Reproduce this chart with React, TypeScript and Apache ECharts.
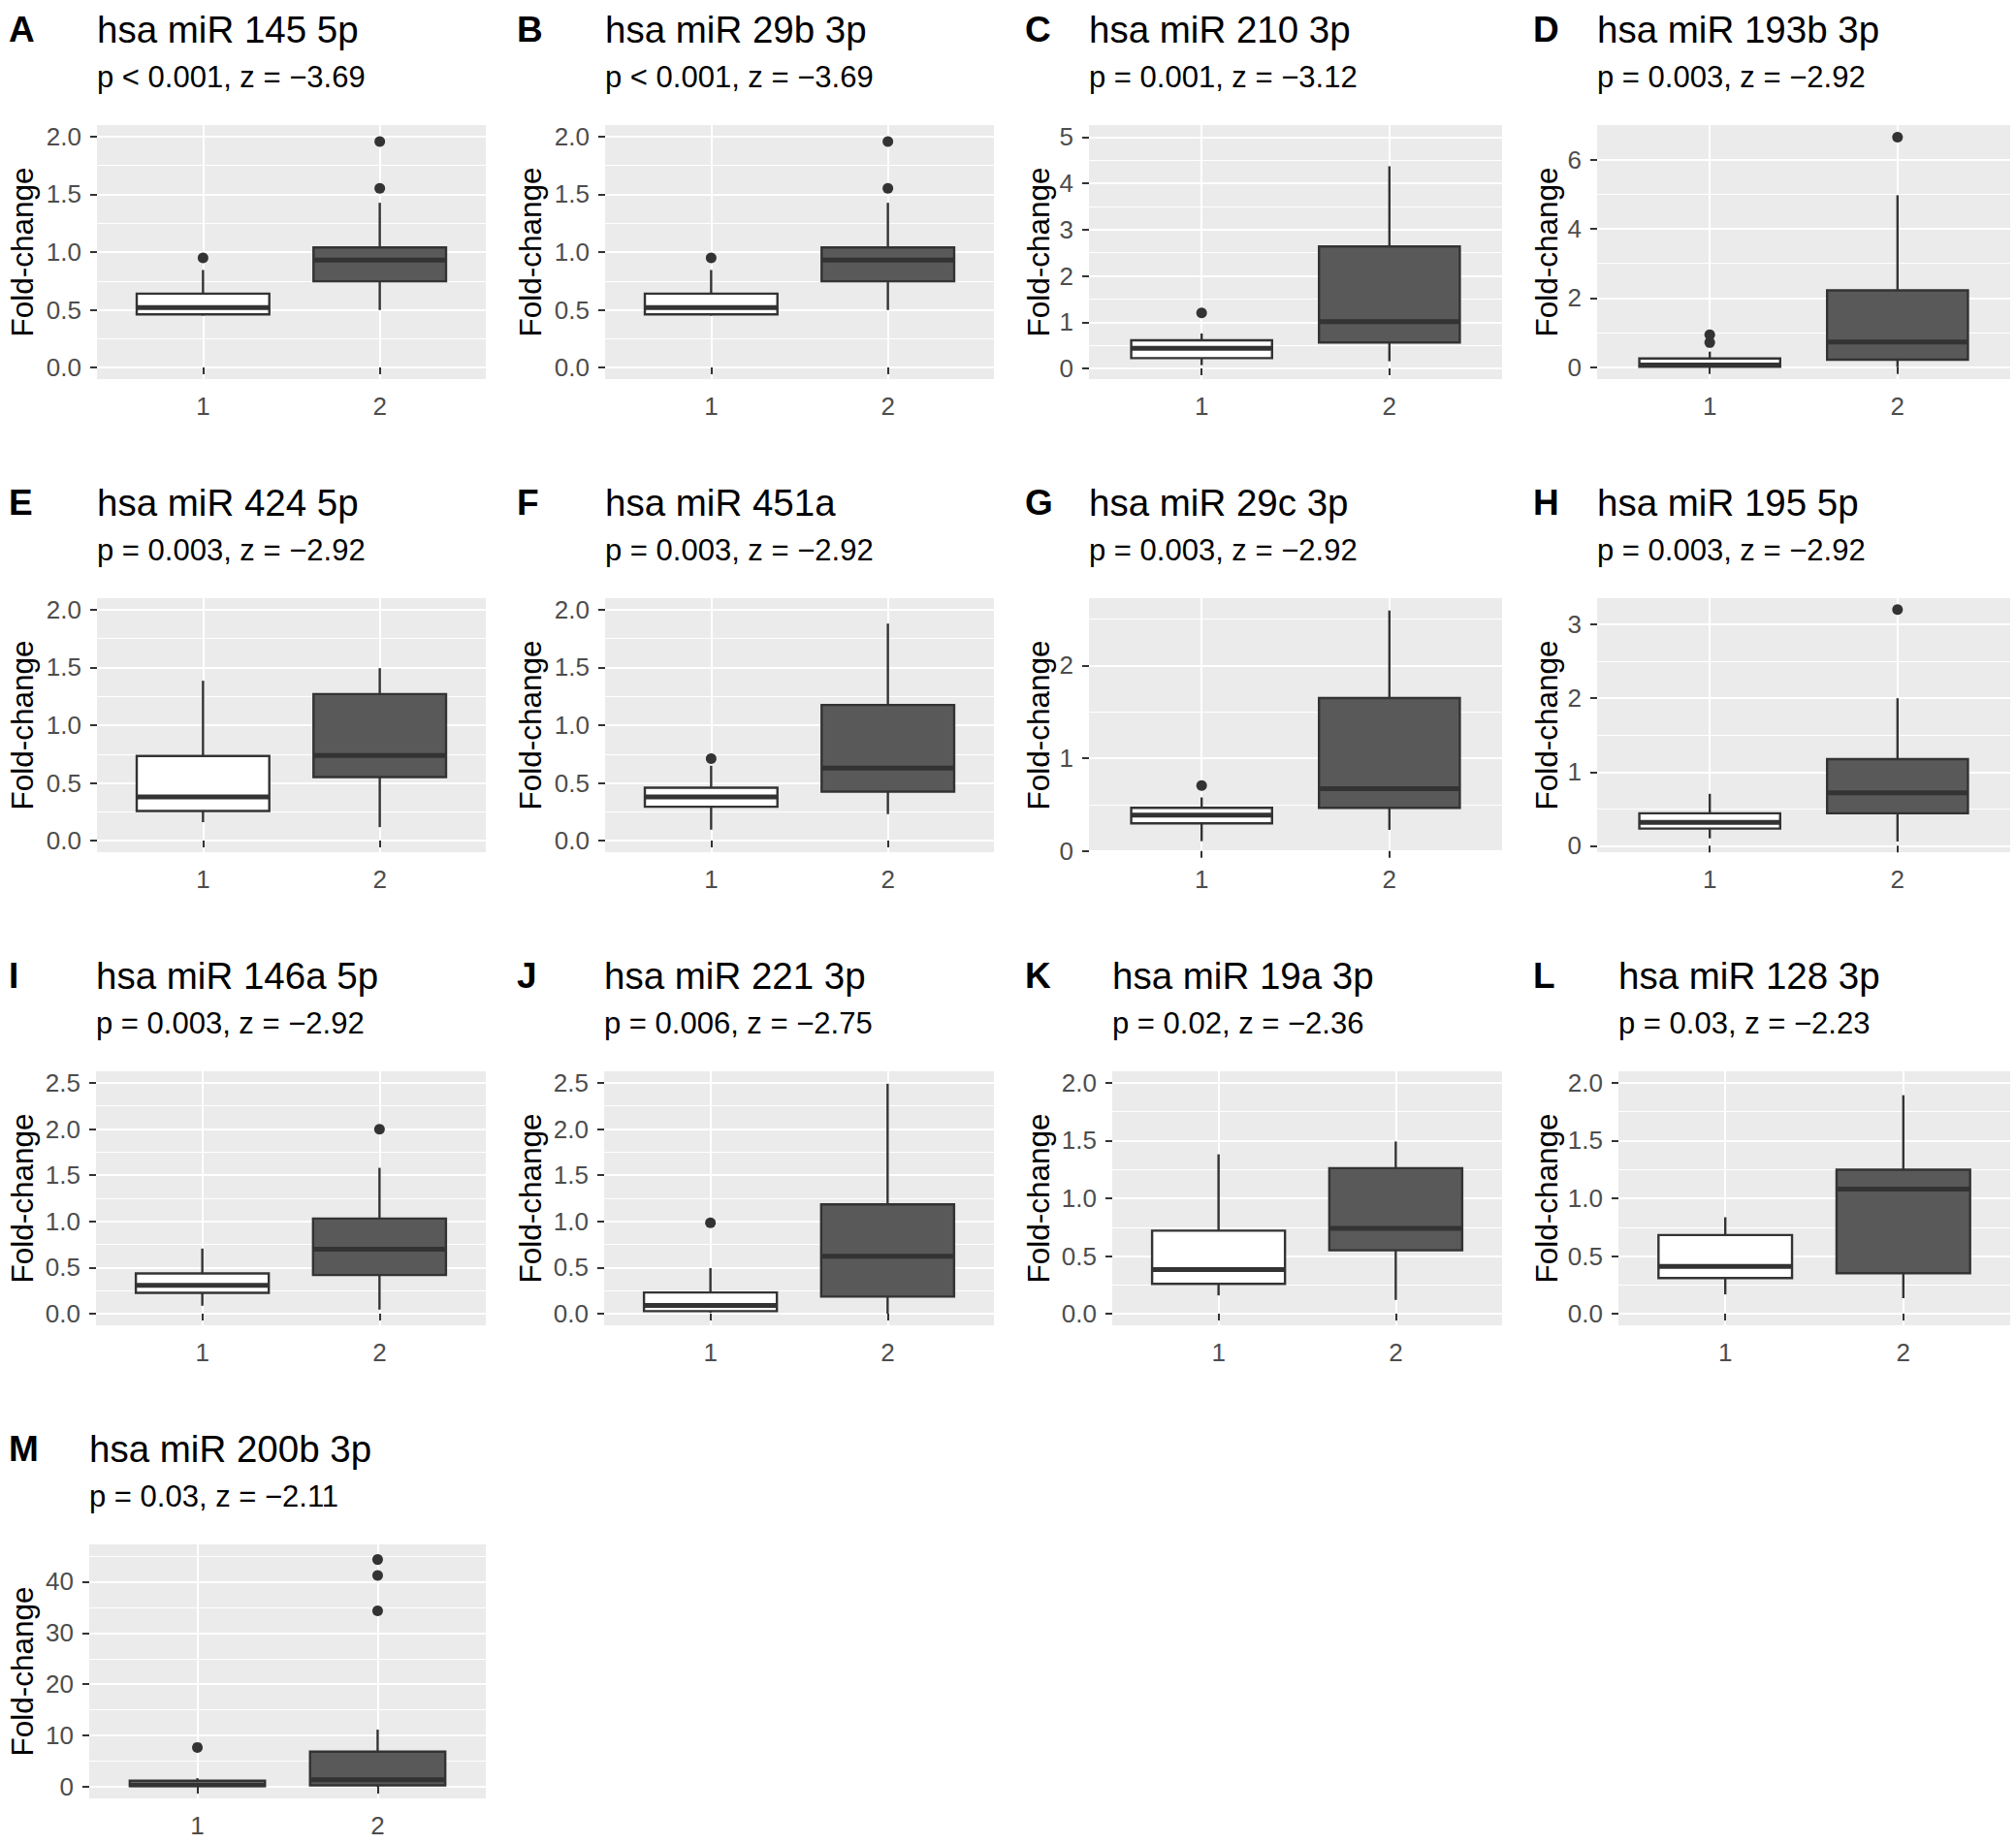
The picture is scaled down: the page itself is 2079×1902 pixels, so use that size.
import React, { useEffect, useRef } from 'react';
import * as echarts from 'echarts';

// ---------- data ----------
const LETTERS = ['A', 'B', 'C', 'D', 'E', 'F', 'G', 'H', 'I', 'J', 'K', 'L', 'M'];
const TITLES = [
  'hsa miR 145 5p', 'hsa miR 29b 3p', 'hsa miR 210 3p', 'hsa miR 193b 3p',
  'hsa miR 424 5p', 'hsa miR 451a', 'hsa miR 29c 3p', 'hsa miR 195 5p',
  'hsa miR 146a 5p', 'hsa miR 221 3p', 'hsa miR 19a 3p', 'hsa miR 128 3p',
  'hsa miR 200b 3p',
];
const SUBTITLES = [
  'p < 0.001, z = \u22123.69', 'p < 0.001, z = \u22123.69', 'p = 0.001, z = \u22123.12', 'p = 0.003, z = \u22122.92',
  'p = 0.003, z = \u22122.92', 'p = 0.003, z = \u22122.92', 'p = 0.003, z = \u22122.92', 'p = 0.003, z = \u22122.92',
  'p = 0.003, z = \u22122.92', 'p = 0.006, z = \u22122.75', 'p = 0.02, z = \u22122.36', 'p = 0.03, z = \u22122.23',
  'p = 0.03, z = \u22122.11',
];
const GROUPS = [1, 2];
const X_TICKS = [1, 2];
const Y_AXIS_NAME = 'Fold-change';

// y axis ranges, steps and tick values per panel
const Y_MIN = [-0.1, -0.1, -0.23, -0.345, -0.1, -0.1, -0.014, -0.088, -0.125, -0.125, -0.1, -0.1, -2.25];
const Y_MAX = [2.1, 2.1, 5.26, 7.0, 2.1, 2.1, 2.727, 3.357, 2.625, 2.625, 2.1, 2.1, 47.25];
const Y_STEP = [0.5, 0.5, 1, 2, 0.5, 0.5, 1, 1, 0.5, 0.5, 0.5, 0.5, 10];
const Y_TICKS = [
  [0, 0.5, 1, 1.5, 2], [0, 0.5, 1, 1.5, 2], [0, 1, 2, 3, 4, 5], [0, 2, 4, 6],
  [0, 0.5, 1, 1.5, 2], [0, 0.5, 1, 1.5, 2], [0, 1, 2], [0, 1, 2, 3],
  [0, 0.5, 1, 1.5, 2, 2.5], [0, 0.5, 1, 1.5, 2, 2.5], [0, 0.5, 1, 1.5, 2], [0, 0.5, 1, 1.5, 2],
  [0, 10, 20, 30, 40],
];
const Y_DECIMALS = [1, 1, 0, 0, 1, 1, 0, 0, 1, 1, 1, 1, 0];

// box statistics [lower whisker, Q1, median, Q3, upper whisker]
const GROUP1_STATS = [
  [0.45, 0.46, 0.52, 0.64, 0.845],
  [0.45, 0.46, 0.52, 0.64, 0.845],
  [0.07, 0.224, 0.434, 0.608, 0.755],
  [0.0, 0.01, 0.06, 0.25, 0.45],
  [0.16, 0.257, 0.378, 0.733, 1.385],
  [0.095, 0.294, 0.378, 0.459, 0.649],
  [0.105, 0.297, 0.385, 0.465, 0.577],
  [0.1, 0.233, 0.317, 0.44, 0.704],
  [0.087, 0.227, 0.308, 0.437, 0.706],
  [0.01, 0.028, 0.091, 0.231, 0.494],
  [0.159, 0.259, 0.382, 0.72, 1.381],
  [0.168, 0.309, 0.41, 0.682, 0.836],
  [0.1, 0.13, 0.45, 1.2, 1.7],
];
const GROUP2_STATS = [
  [0.498, 0.747, 0.93, 1.04, 1.427],
  [0.498, 0.747, 0.93, 1.04, 1.427],
  [0.154, 0.56, 1.014, 2.636, 4.37],
  [0.0, 0.215, 0.728, 2.22, 4.97],
  [0.117, 0.551, 0.738, 1.27, 1.494],
  [0.23, 0.425, 0.629, 1.175, 1.88],
  [0.227, 0.465, 0.671, 1.65, 2.594],
  [0.057, 0.44, 0.717, 1.175, 2.0],
  [0.045, 0.42, 0.699, 1.031, 1.58],
  [0.0, 0.186, 0.624, 1.185, 2.49],
  [0.12, 0.55, 0.739, 1.261, 1.492],
  [0.135, 0.351, 1.08, 1.248, 1.893],
  [0.0, 0.31, 1.39, 6.87, 11.15],
];
const GROUP1_OUTLIERS = [[0.95], [0.95], [1.2], [0.71, 0.94], [], [0.71], [0.706], [], [], [0.985], [], [], [7.69]];
const GROUP2_OUTLIERS = [[1.553, 1.958], [1.553, 1.958], [], [6.65], [], [], [], [3.203], [1.997], [], [], [], [34.3, 41.2, 44.3]];

// ---------- layout / style ----------
const COL_X = [0, 524, 1048, 1572];
const ROW_Y = [0, 488, 976, 1464];
const PLOT_LEFT = [100, 100, 75, 75, 100, 100, 75, 75, 99, 99, 99, 97, 92];
const PLOT_RIGHT = 501;
const PLOT_TOP = 129;
const PLOT_HEIGHT = 262;
const FONT = "'Liberation Sans', Arial, Helvetica, sans-serif";
const BOX_FILLS = ['#ffffff', '#595959'];
const INK = '#333333';
const HALF_BOX = 0.375;

function buildOption() {
  const grids: any[] = [];
  const xAxes: any[] = [];
  const yAxes: any[] = [];
  const series: any[] = [];
  const graphics: any[] = [];

  TITLES.forEach((title, i) => {
    const cx = COL_X[i % 4];
    const ry = ROW_Y[Math.floor(i / 4)];
    const left = cx + PLOT_LEFT[i];
    const width = PLOT_RIGHT - PLOT_LEFT[i];
    const top = ry + PLOT_TOP;

    grids.push({
      left, top, width, height: PLOT_HEIGHT,
      show: true, backgroundColor: '#ebebeb', borderWidth: 0, borderColor: 'transparent',
      containLabel: false, outerBoundsMode: 'none',
    });

    xAxes.push({
      gridIndex: i, type: 'value', min: 0.4, max: 2.6, minInterval: 1, maxInterval: 1,
      axisLine: { show: false },
      axisTick: { show: true, length: 7, lineStyle: { color: INK, width: 2 }, customValues: X_TICKS },
      axisLabel: {
        show: true, margin: 15, fontSize: 26, color: '#4d4d4d', fontFamily: FONT,
        customValues: X_TICKS, formatter: (v: number) => String(v),
      },
      splitLine: { show: true, lineStyle: { color: '#ffffff', width: 2 } },
      minorSplitLine: { show: false },
    });

    const dec = Y_DECIMALS[i];
    yAxes.push({
      gridIndex: i, type: 'value', min: Y_MIN[i], max: Y_MAX[i],
      minInterval: Y_STEP[i], maxInterval: Y_STEP[i],
      axisLine: { show: false },
      axisTick: { show: true, length: 7, lineStyle: { color: INK, width: 2 }, customValues: Y_TICKS[i] },
      axisLabel: {
        show: true, margin: 16, fontSize: 26, color: '#4d4d4d', fontFamily: FONT,
        customValues: Y_TICKS[i], formatter: (v: number) => Number(v).toFixed(dec),
      },
      splitLine: { show: true, lineStyle: { color: '#ffffff', width: 2 } },
      minorTick: { show: false, splitNumber: 2 },
      minorSplitLine: { show: true, lineStyle: { color: '#ffffff', width: 1 } },
    });

    const boxData = [
      [GROUPS[0], ...GROUP1_STATS[i]],
      [GROUPS[1], ...GROUP2_STATS[i]],
    ];
    series.push({
      type: 'custom', name: title, xAxisIndex: i, yAxisIndex: i,
      coordinateSystem: 'cartesian2d',
      encode: { x: 0, y: [1, 2, 3, 4, 5] },
      data: boxData, z: 2, silent: true,
      renderItem: (params: any, api: any) => {
        const x = api.value(0);
        const lo = api.value(1), q1 = api.value(2), med = api.value(3), q3 = api.value(4), hi = api.value(5);
        const pLo = api.coord([x, lo]);
        const pQ1 = api.coord([x, q1]);
        const pQ3 = api.coord([x, q3]);
        const pHi = api.coord([x, hi]);
        const tl = api.coord([x - HALF_BOX, q3]);
        const br = api.coord([x + HALF_BOX, q1]);
        const mL = api.coord([x - HALF_BOX, med]);
        const mR = api.coord([x + HALF_BOX, med]);
        const fill = BOX_FILLS[params.dataIndex];
        const lineStyle = { stroke: INK, lineWidth: 2.4 };
        return {
          type: 'group',
          children: [
            { type: 'line', shape: { x1: pHi[0], y1: pHi[1], x2: pQ3[0], y2: pQ3[1] }, style: lineStyle },
            { type: 'line', shape: { x1: pLo[0], y1: pLo[1], x2: pQ1[0], y2: pQ1[1] }, style: lineStyle },
            {
              type: 'rect',
              shape: { x: tl[0], y: tl[1], width: br[0] - tl[0], height: br[1] - tl[1] },
              style: { fill, stroke: INK, lineWidth: 2.4 },
            },
            { type: 'line', shape: { x1: mL[0], y1: mL[1], x2: mR[0], y2: mR[1] }, style: { stroke: INK, lineWidth: 5 } },
          ],
        };
      },
    });

    const outData: number[][] = [];
    GROUP1_OUTLIERS[i].forEach((v) => outData.push([GROUPS[0], v]));
    GROUP2_OUTLIERS[i].forEach((v) => outData.push([GROUPS[1], v]));
    series.push({
      type: 'scatter', xAxisIndex: i, yAxisIndex: i, data: outData,
      symbol: 'circle', symbolSize: 11, itemStyle: { color: INK, opacity: 1 }, z: 3, silent: true,
    });

    graphics.push(
      {
        type: 'text', x: cx + 9, y: ry + 30, silent: true,
        style: { text: LETTERS[i], fill: '#000', fontSize: 37, fontWeight: 'bold', fontFamily: FONT, align: 'left', verticalAlign: 'middle' },
      },
      {
        type: 'text', x: left, y: ry + 30, silent: true,
        style: { text: title, fill: '#000', fontSize: 38.5, fontFamily: FONT, align: 'left', verticalAlign: 'middle' },
      },
      {
        type: 'text', x: left, y: ry + 79, silent: true,
        style: { text: SUBTITLES[i], fill: '#000', fontSize: 31, fontFamily: FONT, align: 'left', verticalAlign: 'middle' },
      },
      {
        type: 'text', x: cx + 23, y: top + PLOT_HEIGHT / 2, rotation: Math.PI / 2, silent: true,
        style: { text: Y_AXIS_NAME, fill: '#000', fontSize: 31.5, fontFamily: FONT, align: 'center', verticalAlign: 'middle' },
      },
    );
  });

  return {
    animation: false,
    backgroundColor: '#ffffff',
    grid: grids,
    xAxis: xAxes,
    yAxis: yAxes,
    series,
    graphic: { elements: graphics },
  };
}

export default function App() {
  const ref = useRef<HTMLDivElement>(null);
  useEffect(() => {
    document.body.style.margin = '0';
    const chart = echarts.init(ref.current as HTMLDivElement, null, { renderer: 'svg' });
    chart.setOption(buildOption() as any);
    return () => chart.dispose();
  }, []);
  return <div ref={ref} style={{ width: 2079, height: 1902 }} />;
}
